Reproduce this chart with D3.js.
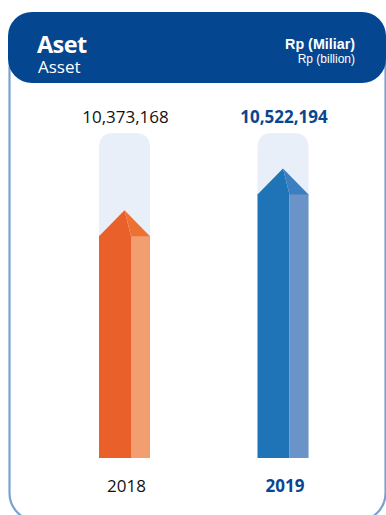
<!DOCTYPE html>
<html><head><meta charset="utf-8">
<script src="https://cdn.jsdelivr.net/npm/d3@7"></script>
<style>html,body{margin:0;padding:0;background:#fff;}svg{display:block;}</style>
</head><body>
<script>
const years = ["2018", "2019"];
const values = [10373168, 10522194];
const valueLabels = ["10,373,168", "10,522,194"];
const domainMin = 9580000, domainMax = 10740000;
const titleId = "Aset", titleEn = "Asset";
const unitId = "Rp (Miliar)", unitEn = "Rp (billion)";

const W = 386, H = 515;
const svg = d3.select("body").append("svg").attr("width", W).attr("height", H);

// outer frame
svg.append("rect").attr("x", 9.5).attr("y", 40).attr("width", 376).attr("height", 481)
  .attr("rx", 28).attr("fill", "none").attr("stroke", "#7ba2cf").attr("stroke-width", 2.2);
// header
svg.append("rect").attr("x", 8).attr("y", 12).attr("width", 378).attr("height", 71)
  .attr("rx", 24).attr("fill", "#04468f");
const hf = "'Open Sans', 'Noto Sans', sans-serif";
svg.append("text").attr("x", 37).attr("y", 53).text(titleId)
  .attr("font-family", hf).attr("font-weight", 700).attr("font-size", 23.5).attr("fill", "#fff").attr("letter-spacing", -0.6);
svg.append("text").attr("x", 38).attr("y", 73).text(titleEn)
  .attr("font-family", hf).attr("font-size", 17).attr("fill", "#fff");
svg.append("text").attr("x", 355).attr("y", 49).attr("text-anchor", "end").text(unitId)
  .attr("font-family", "'Liberation Sans', Arial, sans-serif").attr("font-weight", 700).attr("font-size", 14.3).attr("fill", "#fff");
svg.append("text").attr("x", 355).attr("y", 63).attr("text-anchor", "end").text(unitEn)
  .attr("font-family", "'Liberation Sans', Arial, sans-serif").attr("font-size", 12).attr("fill", "#fff");

const x = d3.scalePoint().domain(years).range([124.5, 283]);
const y = d3.scaleLinear().domain([domainMin, domainMax]).range([458, 133]);

const fullW = 51, mainW = 32;
const pal = [
  {main: "#e9602a", side: "#f29e70", roof: "#ee7134", label: "#111", weight: 400},
  {main: "#1f74b8", side: "#6a93c8", roof: "#3b7fc1", label: "#0a4690", weight: 700}
];

years.forEach((yr, i) => {
  const cx = x(yr), left = cx - fullW / 2, right = cx + fullW / 2, split = left + mainW;
  const top = y(domainMax), base = y(domainMin);
  const sh = y(values[i]), apexY = sh - fullW / 2;
  const g = svg.append("g");
  const r = 15;
  g.append("path").attr("d",
    `M${left},${base}V${top + r}Q${left},${top} ${left + r},${top}H${right - r}Q${right},${top} ${right},${top + r}V${base}Z`)
    .attr("fill", "#e8eff8");
  g.append("rect").attr("x", left).attr("y", sh).attr("width", mainW).attr("height", base - sh).attr("fill", pal[i].main);
  g.append("rect").attr("x", split).attr("y", sh).attr("width", right - split).attr("height", base - sh).attr("fill", pal[i].side);
  g.append("path").attr("d", `M${left},${sh + 0.5}L${cx},${apexY}L${split},${sh + 0.5}Z`).attr("fill", pal[i].main);
  g.append("path").attr("d", `M${cx},${apexY}L${right},${sh + 0.5}L${split},${sh + 0.5}Z`).attr("fill", pal[i].roof);
  svg.append("text").attr("x", cx + 1).attr("y", 123).attr("text-anchor", "middle").text(valueLabels[i])
    .attr("font-family", hf).attr("font-size", 17).attr("font-weight", pal[i].weight).attr("fill", pal[i].label);
  svg.append("text").attr("x", cx + 2).attr("y", 492).attr("text-anchor", "middle").text(yr)
    .attr("font-family", hf).attr("font-size", 17).attr("font-weight", pal[i].weight).attr("fill", pal[i].label);
});
</script>
</body></html>
